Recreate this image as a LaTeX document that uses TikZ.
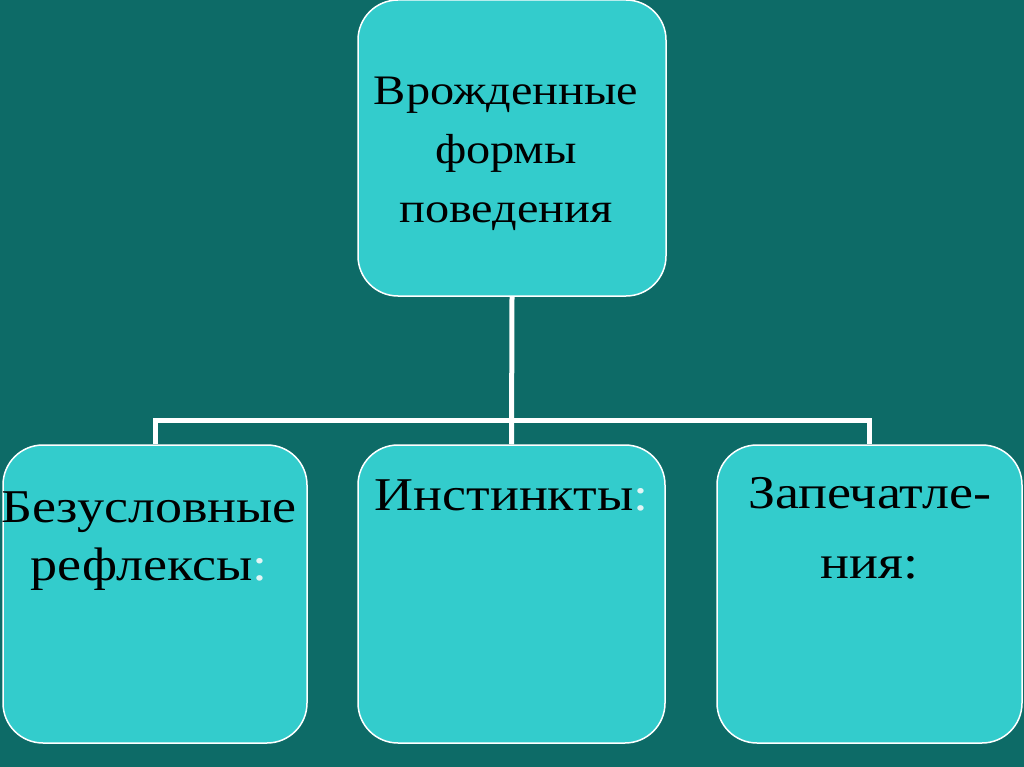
\documentclass[tikz,border=0pt]{standalone}
\usepackage{fontspec}
\setmainfont[FakeStretch=1.15]{Liberation Serif}
\usetikzlibrary{positioning}
\definecolor{bgteal}{RGB}{13,107,103}
\definecolor{boxteal}{RGB}{51,204,204}
\definecolor{colonwhite}{RGB}{225,245,245}
\tikzset{
  formbox/.style={draw=white, line width=1.5pt, fill=boxteal, rounded corners=40pt,
    minimum height=298pt, inner sep=0pt},
  boxtext/.style={align=center, inner sep=0pt, text=black},
  link/.style={draw=white, line width=5pt}
}
\newcommand{\wcolon}{{\color{colonwhite}:}}
\begin{document}
\begin{tikzpicture}[x=1pt, y=-1pt]
\useasboundingbox[fill=bgteal] (0,0) rectangle (1024,767);

% boxes
\node[formbox, minimum width=308pt, minimum height=296pt] (innate) at (512,148) {};
\node[formbox, minimum width=304pt] (reflex) at (155,594) {};
\node[formbox, minimum width=307pt] (instinct) at (511.5,594) {};
\node[formbox, minimum width=305pt] (imprint) at (869.5,594) {};

% labels
\node[boxtext, font=\fontsize{42pt}{59pt}\selectfont, below=78pt of innate.north, xshift=-6pt] (innatetext)
  {Врожденные\\формы\\поведения};
\node[boxtext, font=\fontsize{47pt}{58pt}\selectfont, below=47pt of reflex.north, xshift=-6pt] (reflextext)
  {Безусловные\\рефлексы\wcolon};
\node[boxtext, font=\fontsize{47pt}{52pt}\selectfont, below=35pt of instinct.north] (instincttext)
  {Инстинкты\wcolon};
\node[boxtext, font=\fontsize{47pt}{70pt}\selectfont, below=33pt of imprint.north] (imprinttext)
  {Запечатле-\\ния:};

% connectors
\coordinate (bar) at (512,420);
\draw[link] (innate.south) -- (instinct.north);
\draw[link] (reflex.north) -- (reflex.north |- bar) -- (imprint.north |- bar) -- (imprint.north);
\end{tikzpicture}
\end{document}
